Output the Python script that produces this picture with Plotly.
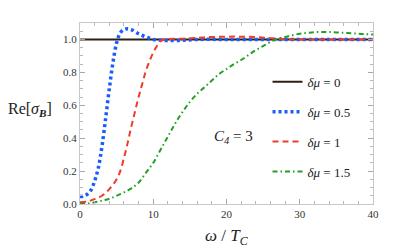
import plotly.graph_objects as go

# data
x_blue = [0, 0.5, 1, 1.5, 2, 2.5, 3, 3.5, 4, 4.5, 5, 5.5, 6, 6.5, 7, 8, 9, 10, 11, 12, 14, 16, 20, 25, 30, 35, 40]
y_blue = [0.045, 0.048, 0.06, 0.085, 0.14, 0.22, 0.35, 0.52, 0.70, 0.86, 0.98, 1.04, 1.06, 1.065, 1.06, 1.035, 1.015, 1.0, 0.995, 0.993, 0.995, 1.0, 1.0, 1.0, 1.0, 1.0, 1.0]

x_red = [0, 1, 2, 3, 4, 5, 5.5, 6, 6.5, 7, 7.5, 8, 8.5, 9, 9.5, 10, 10.5, 11, 11.5, 12, 14, 16, 18, 20, 22, 24, 26, 28, 30, 35, 40]
y_red = [0.01, 0.015, 0.03, 0.05, 0.09, 0.15, 0.2, 0.28, 0.37, 0.47, 0.56, 0.65, 0.73, 0.81, 0.87, 0.92, 0.96, 0.99, 1.0, 1.003, 1.005, 1.01, 1.015, 1.017, 1.017, 1.015, 1.008, 1.002, 1.0, 1.0, 1.0]

x_green = [0, 1, 2, 3, 4, 5, 6, 7, 8, 9, 10, 11, 12, 13, 14, 15, 16, 17, 18, 19, 20, 21, 22, 23, 24, 25, 26, 27, 28, 29, 30, 31, 32, 33, 34, 35, 36, 37, 38, 39, 40]
y_green = [0.0, 0.003, 0.01, 0.02, 0.032, 0.05, 0.07, 0.095, 0.13, 0.19, 0.25, 0.33, 0.41, 0.49, 0.56, 0.62, 0.67, 0.71, 0.75, 0.79, 0.82, 0.85, 0.875, 0.905, 0.935, 0.96, 0.985, 1.005, 1.015, 1.025, 1.035, 1.04, 1.044, 1.045, 1.045, 1.043, 1.04, 1.037, 1.035, 1.032, 1.03]

x_black = [0, 40]
y_black = [1.0, 1.0]

labels = ["<i>δμ</i> = 0", "<i>δμ</i> = 0.5", "<i>δμ</i> = 1", "<i>δμ</i> = 1.5"]

fig = go.Figure()
fig.add_trace(go.Scatter(x=x_black, y=y_black, mode="lines", name=labels[0], legendgroup="a",
                         line=dict(color="#2e2010", width=2)))
fig.add_trace(go.Scatter(x=x_blue, y=y_blue, mode="lines", name=labels[1], legendgroup="b", line_shape="spline",
                         line=dict(color="#1a5cff", width=3.5, dash="3px,3px")))
fig.add_trace(go.Scatter(x=x_red, y=y_red, mode="lines", name=labels[2], legendgroup="c", line_shape="spline",
                         line=dict(color="#f03a2a", width=2, dash="6px,4px")))
fig.add_trace(go.Scatter(x=x_green, y=y_green, mode="lines", name=labels[3], legendgroup="d", line_shape="spline",
                         line=dict(color="#23a023", width=2, dash="5px,3px,1.5px,3px")))

axis_common = dict(showline=True, linecolor="#c8c8c8", linewidth=1, mirror="ticks",
                   ticks="inside", tickcolor="#a8a8a8", ticklen=5, tickwidth=1,
                   showgrid=False, zeroline=False,
                   tickfont=dict(family="Liberation Serif", size=11, color="#333"))

fig.update_xaxes(range=[0, 40], tickvals=[0, 10, 20, 30, 40],
                 minor=dict(dtick=2, ticks="inside", ticklen=3, tickcolor="#b8b8b8"),
                 **axis_common)
fig.update_yaxes(range=[0, 1.1], tickvals=[0, 0.2, 0.4, 0.6, 0.8, 1.0], tickformat=".1f",
                 minor=dict(dtick=0.05, ticks="inside", ticklen=3, tickcolor="#b8b8b8"),
                 **axis_common)

fig.add_annotation(text="Re[<i>σ</i><sub><b><i>B</i></b></sub>]", xref="paper", yref="paper",
                   x=-0.09, y=0.52, xanchor="right", yanchor="middle", showarrow=False,
                   font=dict(family="Liberation Serif", size=16, color="#222"))
fig.add_annotation(text="<i>ω</i> / <i>T</i><sub><i>C</i></sub>", xref="paper", yref="paper",
                   x=0.5, y=-0.11, xanchor="center", yanchor="top", showarrow=False,
                   font=dict(family="Liberation Serif", size=17, color="#222"))
fig.add_annotation(text="<i>C</i><sub><i>4</i></sub> = 3", x=21, y=0.41, showarrow=False,
                   font=dict(family="Liberation Serif", size=15, color="#222"))

# page body has an 8px margin, so the figure is sized to fit the 415x250 window
fig.update_layout(width=407, height=242, margin=dict(l=72, r=42, t=15, b=46),
                  plot_bgcolor="white", paper_bgcolor="white",
                  legend=dict(x=0.64, y=0.758, xanchor="left", yanchor="top",
                              font=dict(family="Liberation Serif", size=13, color="#222"),
                              tracegroupgap=10, bgcolor="rgba(0,0,0,0)", itemwidth=30),
                  showlegend=True)

fig.write_html("out.html")
